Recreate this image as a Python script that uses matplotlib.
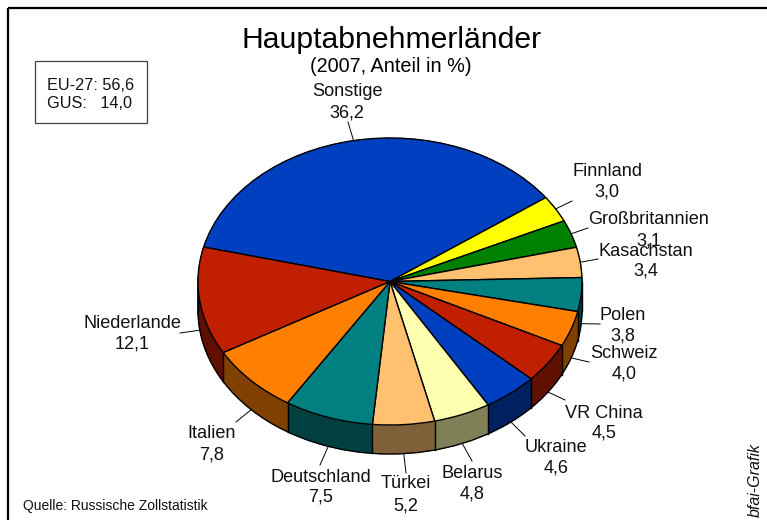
import matplotlib.pyplot as plt
import numpy as np
from matplotlib.colors import to_rgb
from matplotlib.patches import Arc, Rectangle

plt.rcParams["font.family"] = ["Liberation Sans", "DejaVu Sans"]

W, H = 767, 520
CX, CY = 390, 281.5
RX, RY = 192, 143.5
DEPTH = 29

countries = [
    "Sonstige", "Finnland", "Großbritannien", "Kasachstan", "Polen", "Schweiz", "VR China",
    "Ukraine", "Belarus", "Türkei", "Deutschland", "Italien", "Niederlande",
]
shares = [36.2, 3.0, 3.1, 3.4, 3.8, 4.0, 4.5, 4.6, 4.8, 5.2, 7.5, 7.8, 12.1]
colors = [
    "#0040C0", "#FFFF00", "#008000", "#FFC070", "#008080", "#FF8000", "#C02000",
    "#0040C0", "#FFFFB0", "#FFC070", "#008080", "#FF8000", "#C02000",
]
box_lines = ["EU-27: 56,6", "GUS:   14,0"]

# label centre x, name y, value y (pixels)
label_pos = [
    (347, 92, 113), (607, 171, 192), (649, 220, 241), (646, 251, 271), (623, 316, 336),
    (624, 353, 374), (604, 413, 433), (556, 447, 468), (472, 473, 494), (406, 484, 506),
    (321, 477, 497), (212, 434, 455), (132, 324, 344),
]
# outer end of each leader line (pixels)
leader_ends = [
    (348, 122), (572, 201), (588, 228), (598, 259), (600, 324), (589, 362), (565, 400),
    (525, 436), (472, 461), (406, 473), (320, 465), (236, 422), (180, 333),
]

START = 166.1


def main():
    fig = plt.figure(figsize=(W / 100, H / 100), dpi=100)
    ax = fig.add_axes([0, 0, 1, 1])
    dark = [tuple(c * 0.5 for c in to_rgb(col)) for col in colors]
    d = DEPTH / RY

    # side of the cake: dark copies of the pie stacked from bottom to top
    for off in np.linspace(d, 0, DEPTH + 1):
        wedges, _ = ax.pie(shares, colors=dark, center=(0, -off), radius=1, startangle=START, counterclock=False)
        for w in wedges:
            w.set_edgecolor(w.get_facecolor())
            w.set_linewidth(0.5)

    ax.add_patch(Arc((0, -d), 2, 2, theta1=180, theta2=360, color="black", lw=1, zorder=3))

    edges = START - np.cumsum(shares) * 3.6
    for ang in edges:
        a = np.radians(ang)
        if np.sin(a) < 0:
            ax.plot([np.cos(a)] * 2, [np.sin(a), np.sin(a) - d], color="black", lw=1, zorder=3)
    ax.plot([-1, -1], [0, -d], color="black", lw=1, zorder=3)
    ax.plot([1, 1], [0, -d], color="black", lw=1, zorder=3)

    top, _ = ax.pie(
        shares, colors=colors, radius=1, startangle=START, counterclock=False,
        wedgeprops={"edgecolor": "black", "linewidth": 1},
    )
    for w in top:
        w.set_zorder(4)

    ax.set_aspect("auto")
    ax.set_xlim(-CX / RX, (W - CX) / RX)
    ax.set_ylim((CY - H) / RY, CY / RY)

    # overlay in pixel coordinates for texts, frame and leaders
    ov = fig.add_axes([0, 0, 1, 1], zorder=5)
    ov.patch.set_alpha(0)
    ov.set_xlim(0, W)
    ov.set_ylim(H, 0)
    ov.axis("off")

    ov.add_patch(Rectangle((8, 8), W + 20, H + 20, fill=False, edgecolor="black", lw=1.6))
    ov.add_patch(Rectangle((35, 61), 112, 62, fill=False, edgecolor="#404040", lw=0.9))

    ov.text(392, 40.5, "Hauptabnehmerländer", fontsize=21.7, ha="center", va="center", color="black")
    ov.text(391, 66, "(2007, Anteil in %)", fontsize=14.3, ha="center", va="center", color="black")

    for i, line in enumerate(box_lines):
        ov.text(47, 85 + 19 * i, line, fontsize=11.7, ha="left", va="center", color="#111111")

    mids = START - (np.cumsum(shares) - np.array(shares) / 2) * 3.6
    for name, val, pos, end, mid in zip(countries, shares, label_pos, leader_ends, mids):
        a = np.radians(mid)
        x0 = CX + RX * np.cos(a)
        y0 = CY - RY * np.sin(a)
        if np.sin(a) < 0:
            y0 += DEPTH
        ov.plot([x0, end[0]], [y0, end[1]], color="black", lw=0.7)
        ov.text(pos[0], pos[1], name, fontsize=13.1, ha="center", va="center", color="#111111")
        ov.text(pos[0], pos[2], f"{val:.1f}".replace(".", ","), fontsize=13.1, ha="center", va="center", color="#111111")

    ov.text(23, 506, "Quelle: Russische Zollstatistik", fontsize=10, ha="left", va="center", color="#111111")
    ov.text(755, 480, "bfai-Grafik", fontsize=11.5, style="italic", rotation=90, ha="center", va="center", color="#111111")

    fig.savefig("out.png", dpi=100)


if __name__ == "__main__":
    main()
